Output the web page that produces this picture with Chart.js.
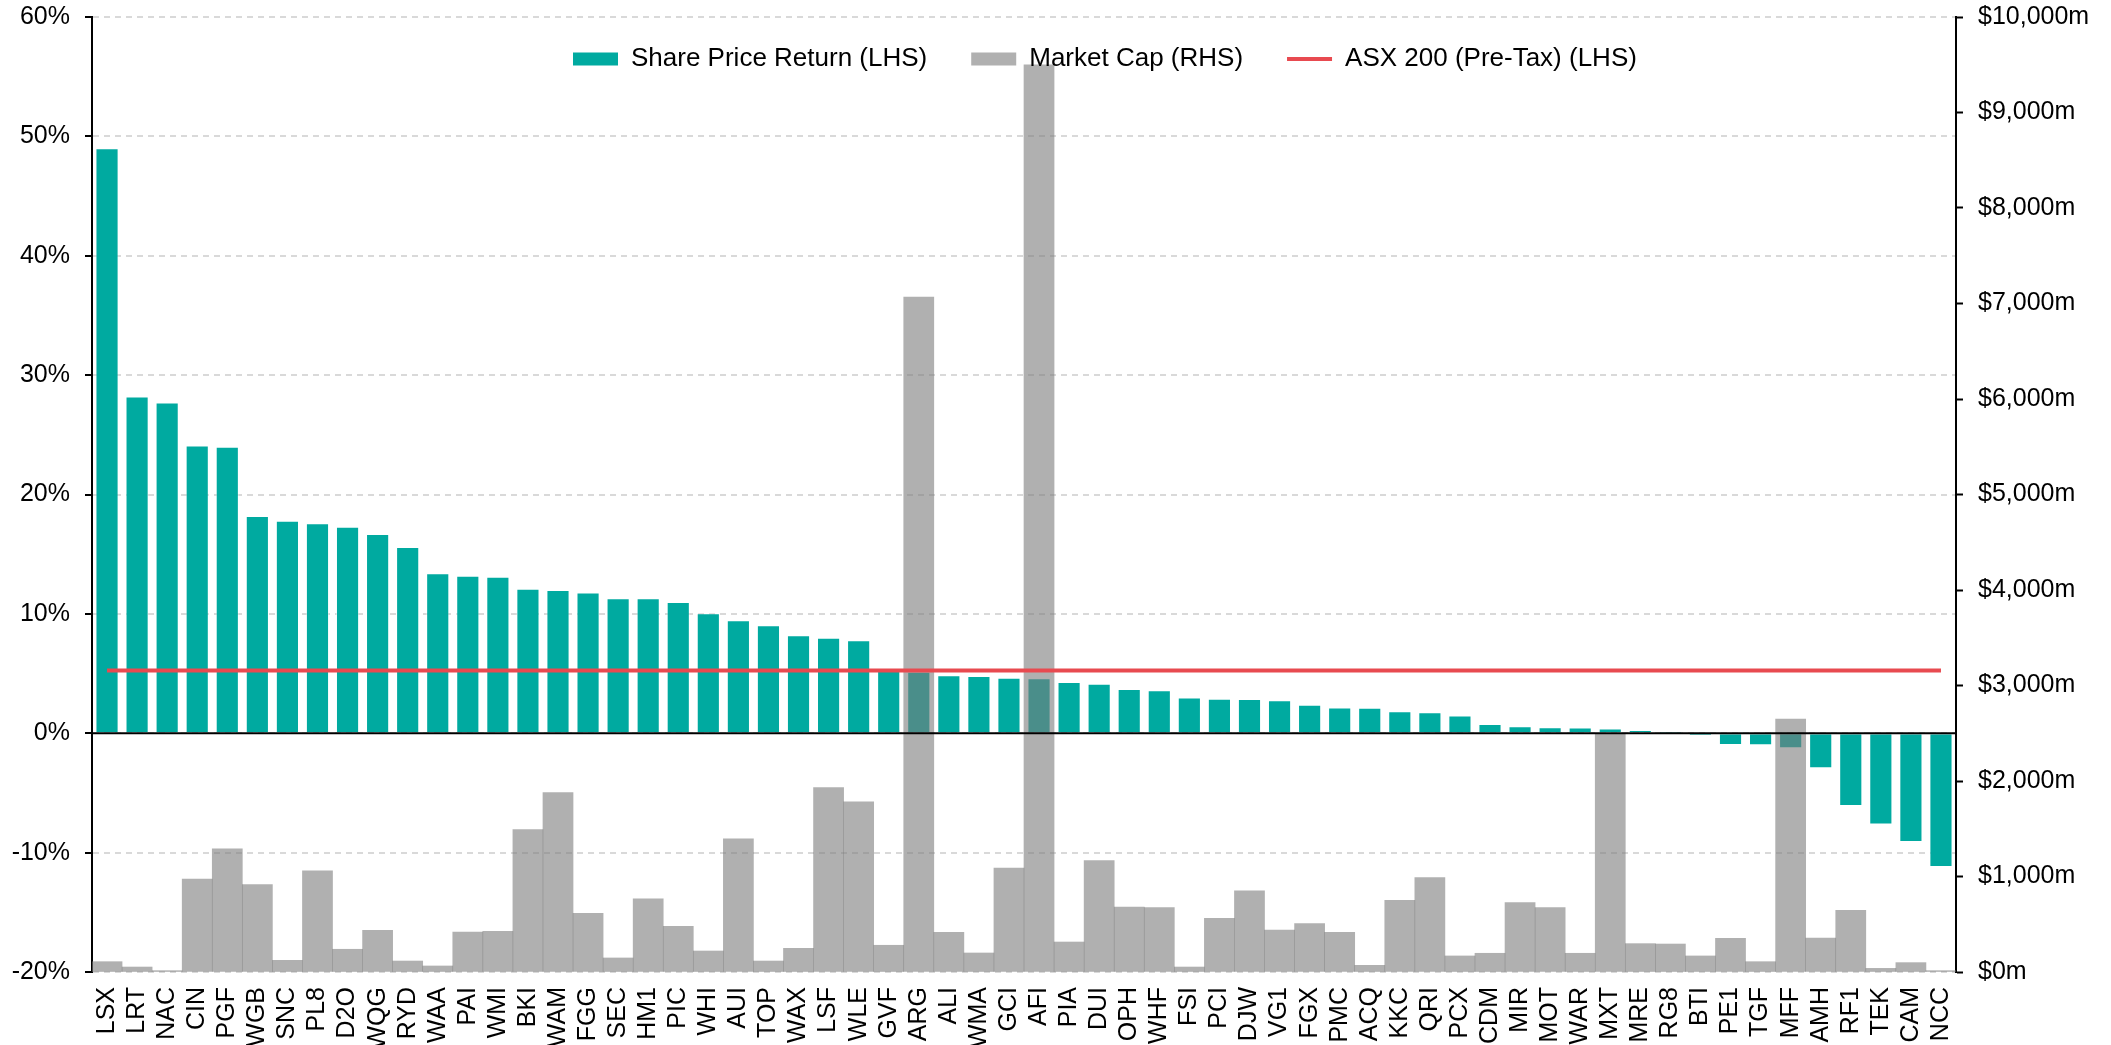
<!DOCTYPE html>
<html>
<head>
<meta charset="utf-8">
<script src="https://cdn.jsdelivr.net/npm/chart.js@4.4.1/dist/chart.umd.min.js"></script>
<style>
  html, body { margin: 0; padding: 0; background: #ffffff; }
  #wrap { width: 2111px; height: 1045px; position: relative; }
  canvas { display: block; }
</style>
</head>
<body>
<div id="wrap"><canvas id="c" width="2111" height="1045"></canvas></div>
<script>
// ---- Data ----
const categories = ['LSX','LRT','NAC','CIN','PGF','WGB','SNC','PL8','D2O','WQG',
  'RYD','WAA','PAI','WMI','BKI','WAM','FGG','SEC','HM1','PIC',
  'WHI','AUI','TOP','WAX','LSF','WLE','GVF','ARG','ALI','WMA',
  'GCI','AFI','PIA','DUI','OPH','WHF','FSI','PCI','DJW','VG1',
  'FGX','PMC','ACQ','KKC','QRI','PCX','CDM','MIR','MOT','WAR',
  'MXT','MRE','RG8','BTI','PE1','TGF','MFF','AMH','RF1','TEK',
  'CAM','NCC'];

const shareReturn = [49.0, 28.2, 27.7, 24.1, 24.0, 18.2, 17.8, 17.6, 17.3, 16.7,
  15.6, 13.4, 13.2, 13.1, 12.1, 12.0, 11.8, 11.3, 11.3, 11.0,
  10.05, 9.46, 9.04, 8.2, 8.0, 7.8, 5.25, 5.15, 4.85, 4.8,
  4.65, 4.6, 4.3, 4.15, 3.7, 3.6, 3.0, 2.9, 2.86, 2.77,
  2.38, 2.16, 2.13, 1.85, 1.76, 1.49, 0.78, 0.59, 0.5, 0.48,
  0.4, 0.28, 0.02, -0.22, -0.98, -1.0, -1.26, -2.94, -6.1, -7.64,
  -9.1, -11.2];

const marketCap = [108, 52, 14, 972, 1289, 915, 122, 1059, 238, 437,
  115, 63, 419, 426, 1492, 1880, 615, 147, 765, 479,
  220, 1394, 115, 248, 1932, 1782, 280, 7068, 416, 199,
  1087, 9500, 314, 1167, 681, 674, 52, 563, 849, 440,
  506, 416, 70, 751, 989, 168, 196, 727, 674, 196,
  2495, 297, 293, 168, 353, 108, 2649, 356, 647, 38,
  98, 14];

const asx200Return = 5.25; // benchmark (constant across all names)
const asx200Series = categories.map(() => asx200Return);

const leftTicks = { min: -20, max: 60, step: 10 };
const rightTicks = { min: 0, max: 10000, step: 1000 };

const seriesNames = ['Share Price Return (LHS)', 'Market Cap (RHS)', 'ASX 200 (Pre-Tax) (LHS)'];

// ---- Styles ----
const FONT = "'Liberation Sans', Arial, sans-serif";
const TEAL = '#00AAA0';
const GREY = 'rgba(123,123,123,0.6)';
const GREY_SOLID = '#B0B0B0';
const RED = '#E84A50';

const legendOverlay = {
  id: 'legendOverlay',
  beforeUpdate(chart) {
    const lg = chart.legend;
    if (lg && !lg.__patched) {
      const origFit = lg.fit;
      lg.fit = function () { origFit.call(this); this.height = 0; };
      lg._layers = function () { return [{ z: 10, draw: (ca) => lg.draw(ca) }]; };
      lg.__patched = true;
    }
  },
  beforeDraw(chart) {
    const lg = chart.legend;
    if (!lg) return;
    lg.left = 529; lg.right = 2111; lg.top = 2; lg.bottom = 130;
    lg.width = lg.right - lg.left; lg.height = lg.bottom - lg.top;
  }
};

const zeroLine = {
  id: 'zeroLine',
  afterDatasetsDraw(chart) {
    const ctx = chart.ctx;
    const y = chart.scales.y.getPixelForValue(0);
    const { left, right } = chart.chartArea;
    ctx.save();
    ctx.strokeStyle = '#000';
    ctx.lineWidth = 2;
    ctx.beginPath();
    ctx.moveTo(left, y);
    ctx.lineTo(right, y);
    ctx.stroke();
    ctx.restore();
  }
};

function fixVertical(width) {
  return function (scale) {
    scale.width = width;
    scale.paddingTop = 8;
    scale.paddingBottom = 0;
  };
}

new Chart(document.getElementById('c'), {
  type: 'bar',
  data: {
    labels: categories,
    datasets: [
      {
        type: 'bar',
        label: seriesNames[0],
        data: shareReturn,
        yAxisID: 'y',
        backgroundColor: TEAL,
        borderColor: 'rgba(255,255,255,0.45)',
        borderWidth: 1,
        grouped: false,
        barPercentage: 0.77,
        categoryPercentage: 1,
        order: 3
      },
      {
        type: 'bar',
        label: seriesNames[1],
        data: marketCap,
        yAxisID: 'y1',
        backgroundColor: GREY,
        borderWidth: 0,
        grouped: false,
        barPercentage: 1,
        categoryPercentage: 1,
        order: 2
      },
      {
        type: 'line',
        label: seriesNames[2],
        data: asx200Series,
        yAxisID: 'y',
        borderColor: RED,
        backgroundColor: RED,
        borderWidth: 4,
        pointRadius: 0,
        tension: 0,
        order: 1
      }
    ]
  },
  options: {
    responsive: false,
    animation: false,
    devicePixelRatio: 1,
    layout: { padding: { top: 17, left: 0, right: 0, bottom: 0 } },
    plugins: {
      tooltip: { enabled: false },
      legend: {
        display: true,
        position: 'top',
        align: 'start',
        labels: {
          font: { family: FONT, size: 26 },
          color: '#000',
          padding: 44,
          usePointStyle: true,
          pointStyleWidth: 45,
          boxHeight: 13,
          generateLabels: () => [
            { text: seriesNames[0], fillStyle: TEAL, strokeStyle: TEAL, lineWidth: 0, pointStyle: 'rect', datasetIndex: 0, fontColor: '#000' },
            { text: seriesNames[1], fillStyle: GREY_SOLID, strokeStyle: GREY_SOLID, lineWidth: 0, pointStyle: 'rect', datasetIndex: 1, fontColor: '#000' },
            { text: seriesNames[2], fillStyle: RED, strokeStyle: RED, lineWidth: 4, pointStyle: 'line', datasetIndex: 2, fontColor: '#000' }
          ]
        }
      }
    },
    scales: {
      x: {
        offset: true,
        grid: { display: false, drawTicks: false },
        border: { display: false },
        ticks: {
          autoSkip: false,
          maxRotation: 90,
          minRotation: 90,
          padding: 15,
          color: '#000',
          font: { family: FONT, size: 25 }
        },
        afterFit(scale) { scale.height = 73; }
      },
      y: {
        position: 'left',
        min: leftTicks.min,
        max: leftTicks.max,
        ticks: {
          stepSize: leftTicks.step,
          padding: 15,
          color: '#000',
          font: { family: FONT, size: 25 },
          callback: (v) => v + '%'
        },
        grid: {
          color: '#D9D9D9',
          lineWidth: 2,
          drawTicks: true,
          tickLength: 7,
          tickColor: '#000',
          tickWidth: 2,
          tickBorderDash: []
        },
        border: { display: true, color: '#000', width: 2, dash: [6, 5] },
        afterFit: fixVertical(92)
      },
      y1: {
        position: 'right',
        min: rightTicks.min,
        max: rightTicks.max,
        ticks: {
          stepSize: rightTicks.step,
          padding: 15,
          color: '#000',
          font: { family: FONT, size: 25 },
          callback: (v) => '$' + Number(v).toLocaleString('en-US') + 'm'
        },
        grid: {
          drawOnChartArea: false,
          drawTicks: true,
          tickLength: 7,
          tickColor: '#000',
          tickWidth: 2
        },
        border: { display: true, color: '#000', width: 2 },
        afterFit: fixVertical(155)
      }
    }
  },
  plugins: [legendOverlay, zeroLine]
});
</script>
</body>
</html>
